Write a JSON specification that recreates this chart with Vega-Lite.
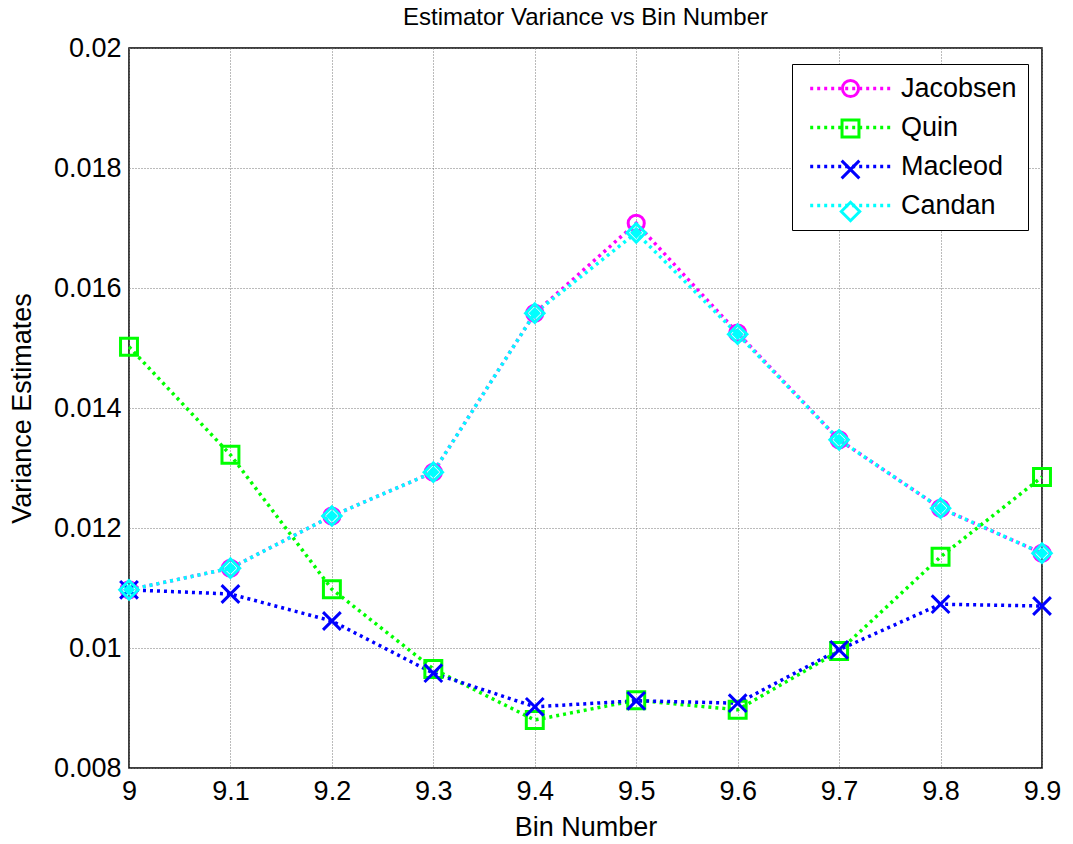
{
  "$schema": "https://vega.github.io/schema/vega-lite/v6.json",
  "width": 913,
  "height": 720,
  "autosize": {"type": "none"},
  "padding": {"left": 129, "top": 48, "right": 31, "bottom": 76},
  "background": "white",
  "title": {"text": "Estimator Variance vs Bin Number", "fontSize": 24, "fontWeight": "normal", "font": "Liberation Sans", "color": "black", "offset": 4},
  "config": {
    "view": {"stroke": "black", "strokeWidth": 1.5},
    "font": "Liberation Sans"
  },
  "data": {"values": [
    {"bin": 9.0, "series": "Jacobsen", "v": 0.01097},
    {"bin": 9.1, "series": "Jacobsen", "v": 0.01133},
    {"bin": 9.2, "series": "Jacobsen", "v": 0.0122},
    {"bin": 9.3, "series": "Jacobsen", "v": 0.01293},
    {"bin": 9.4, "series": "Jacobsen", "v": 0.01558},
    {"bin": 9.5, "series": "Jacobsen", "v": 0.01708},
    {"bin": 9.6, "series": "Jacobsen", "v": 0.01525},
    {"bin": 9.7, "series": "Jacobsen", "v": 0.01347},
    {"bin": 9.8, "series": "Jacobsen", "v": 0.01233},
    {"bin": 9.9, "series": "Jacobsen", "v": 0.01158},
    {"bin": 9.0, "series": "Quin", "v": 0.01502},
    {"bin": 9.1, "series": "Quin", "v": 0.01322},
    {"bin": 9.2, "series": "Quin", "v": 0.01098},
    {"bin": 9.3, "series": "Quin", "v": 0.00965},
    {"bin": 9.4, "series": "Quin", "v": 0.0088},
    {"bin": 9.5, "series": "Quin", "v": 0.00913},
    {"bin": 9.6, "series": "Quin", "v": 0.00897},
    {"bin": 9.7, "series": "Quin", "v": 0.00995},
    {"bin": 9.8, "series": "Quin", "v": 0.01152},
    {"bin": 9.9, "series": "Quin", "v": 0.01285},
    {"bin": 9.0, "series": "Macleod", "v": 0.01097},
    {"bin": 9.1, "series": "Macleod", "v": 0.0109},
    {"bin": 9.2, "series": "Macleod", "v": 0.01045},
    {"bin": 9.3, "series": "Macleod", "v": 0.00958},
    {"bin": 9.4, "series": "Macleod", "v": 0.00902},
    {"bin": 9.5, "series": "Macleod", "v": 0.00912},
    {"bin": 9.6, "series": "Macleod", "v": 0.00908},
    {"bin": 9.7, "series": "Macleod", "v": 0.00997},
    {"bin": 9.8, "series": "Macleod", "v": 0.01073},
    {"bin": 9.9, "series": "Macleod", "v": 0.0107},
    {"bin": 9.0, "series": "Candan", "v": 0.01097},
    {"bin": 9.1, "series": "Candan", "v": 0.01133},
    {"bin": 9.2, "series": "Candan", "v": 0.0122},
    {"bin": 9.3, "series": "Candan", "v": 0.01293},
    {"bin": 9.4, "series": "Candan", "v": 0.01558},
    {"bin": 9.5, "series": "Candan", "v": 0.01692},
    {"bin": 9.6, "series": "Candan", "v": 0.01523},
    {"bin": 9.7, "series": "Candan", "v": 0.01347},
    {"bin": 9.8, "series": "Candan", "v": 0.01233},
    {"bin": 9.9, "series": "Candan", "v": 0.01158}
  ]},
  "encoding": {
    "x": {"field": "bin", "type": "quantitative", "title": "Bin Number",
          "scale": {"domain": [9, 9.9], "nice": false, "zero": false},
          "axis": {"values": [9, 9.1, 9.2, 9.3, 9.4, 9.5, 9.6, 9.7, 9.8, 9.9], "format": "~g",
                   "labelFontSize": 27, "titleFontSize": 27, "titleFontWeight": "normal",
                   "labelFont": "Liberation Sans", "titleFont": "Liberation Sans",
                   "labelColor": "black", "titleColor": "black",
                   "domain": false, "ticks": false,
                   "gridColor": "#777", "gridDash": [1, 2], "gridWidth": 1, "gridOpacity": 1,
                   "labelPadding": 10, "titlePadding": 10, "labelFlush": false}},
    "y": {"field": "v", "type": "quantitative", "title": "Variance Estimates",
          "scale": {"domain": [0.008, 0.02], "nice": false, "zero": false},
          "axis": {"values": [0.008, 0.01, 0.012, 0.014, 0.016, 0.018, 0.02], "format": "~g",
                   "labelFontSize": 27, "titleFontSize": 27, "titleFontWeight": "normal",
                   "labelFont": "Liberation Sans", "titleFont": "Liberation Sans",
                   "labelColor": "black", "titleColor": "black",
                   "domain": false, "ticks": false,
                   "gridColor": "#777", "gridDash": [1, 2], "gridWidth": 1, "gridOpacity": 1,
                   "labelPadding": 8, "titlePadding": 17}}
  },
  "layer": [
    {
      "mark": {"type": "line", "strokeDash": [3, 4], "strokeWidth": 3.5},
      "encoding": {
        "stroke": {"field": "series", "type": "nominal", "sort": ["Jacobsen", "Quin", "Macleod", "Candan"],
                   "scale": {"range": ["#ff00ff", "#00ff00", "#0000ff", "#00ffff"]},
                   "legend": {"title": null, "orient": "none", "legendX": 663, "legendY": 16,
                              "direction": "vertical", "symbolType": "M-5,0H5",
                              "strokeColor": "black", "fillColor": "white", "padding": 11,
                              "labelFontSize": 27, "labelFont": "Liberation Sans", "labelColor": "black",
                              "symbolSize": 260, "symbolStrokeWidth": 3.5, "symbolDash": [3, 4],
                              "rowPadding": 11, "symbolOffset": 34, "labelOffset": 37, "offset": 0}},
        "order": {"field": "bin"}
      }
    },
    {
      "mark": {"type": "point", "filled": false, "strokeWidth": 3, "opacity": 1},
      "encoding": {
        "color": {"field": "series", "type": "nominal",
                  "scale": {"domain": ["Jacobsen", "Quin", "Macleod", "Candan"], "range": ["#ff00ff", "#00ff00", "#0000ff", "#00ffff"]},
                  "legend": {"title": null, "orient": "none", "legendX": 663, "legendY": 16,
                             "direction": "vertical", "padding": 11,
                             "labelFontSize": 27, "labelFont": "Liberation Sans", "labelExpr": "''",
                             "symbolSize": 260, "symbolStrokeWidth": 3, "rowPadding": 11,
                             "symbolOffset": 34, "labelOffset": 37, "offset": 0,
                             "encode": {"symbols": {
                               "size": {"value": {"expr": "datum.value === 'Macleod' ? 30 : datum.value === 'Candan' ? 150 : datum.value === 'Quin' ? 300 : 260"}},
                               "fill": {"value": {"expr": "datum.value === 'Candan' ? '#00ffff' : 'transparent'"}}
                             }}}},
        "shape": {"field": "series", "type": "nominal",
                  "scale": {"domain": ["Jacobsen", "Quin", "Macleod", "Candan"], "range": ["circle", "square", "M-1,-1L1,1M-1,1L1,-1", "diamond"]}},
        "size": {"field": "series", "type": "nominal", "legend": null,
                 "scale": {"domain": ["Jacobsen", "Quin", "Macleod", "Candan"], "range": [260, 340, 30, 150]}}
      }
    },
    {
      "transform": [{"filter": "datum.series === 'Candan'"}],
      "mark": {"type": "point", "filled": true, "shape": "diamond", "size": 150, "color": "#00ffff", "opacity": 1}
    }
  ]
}
